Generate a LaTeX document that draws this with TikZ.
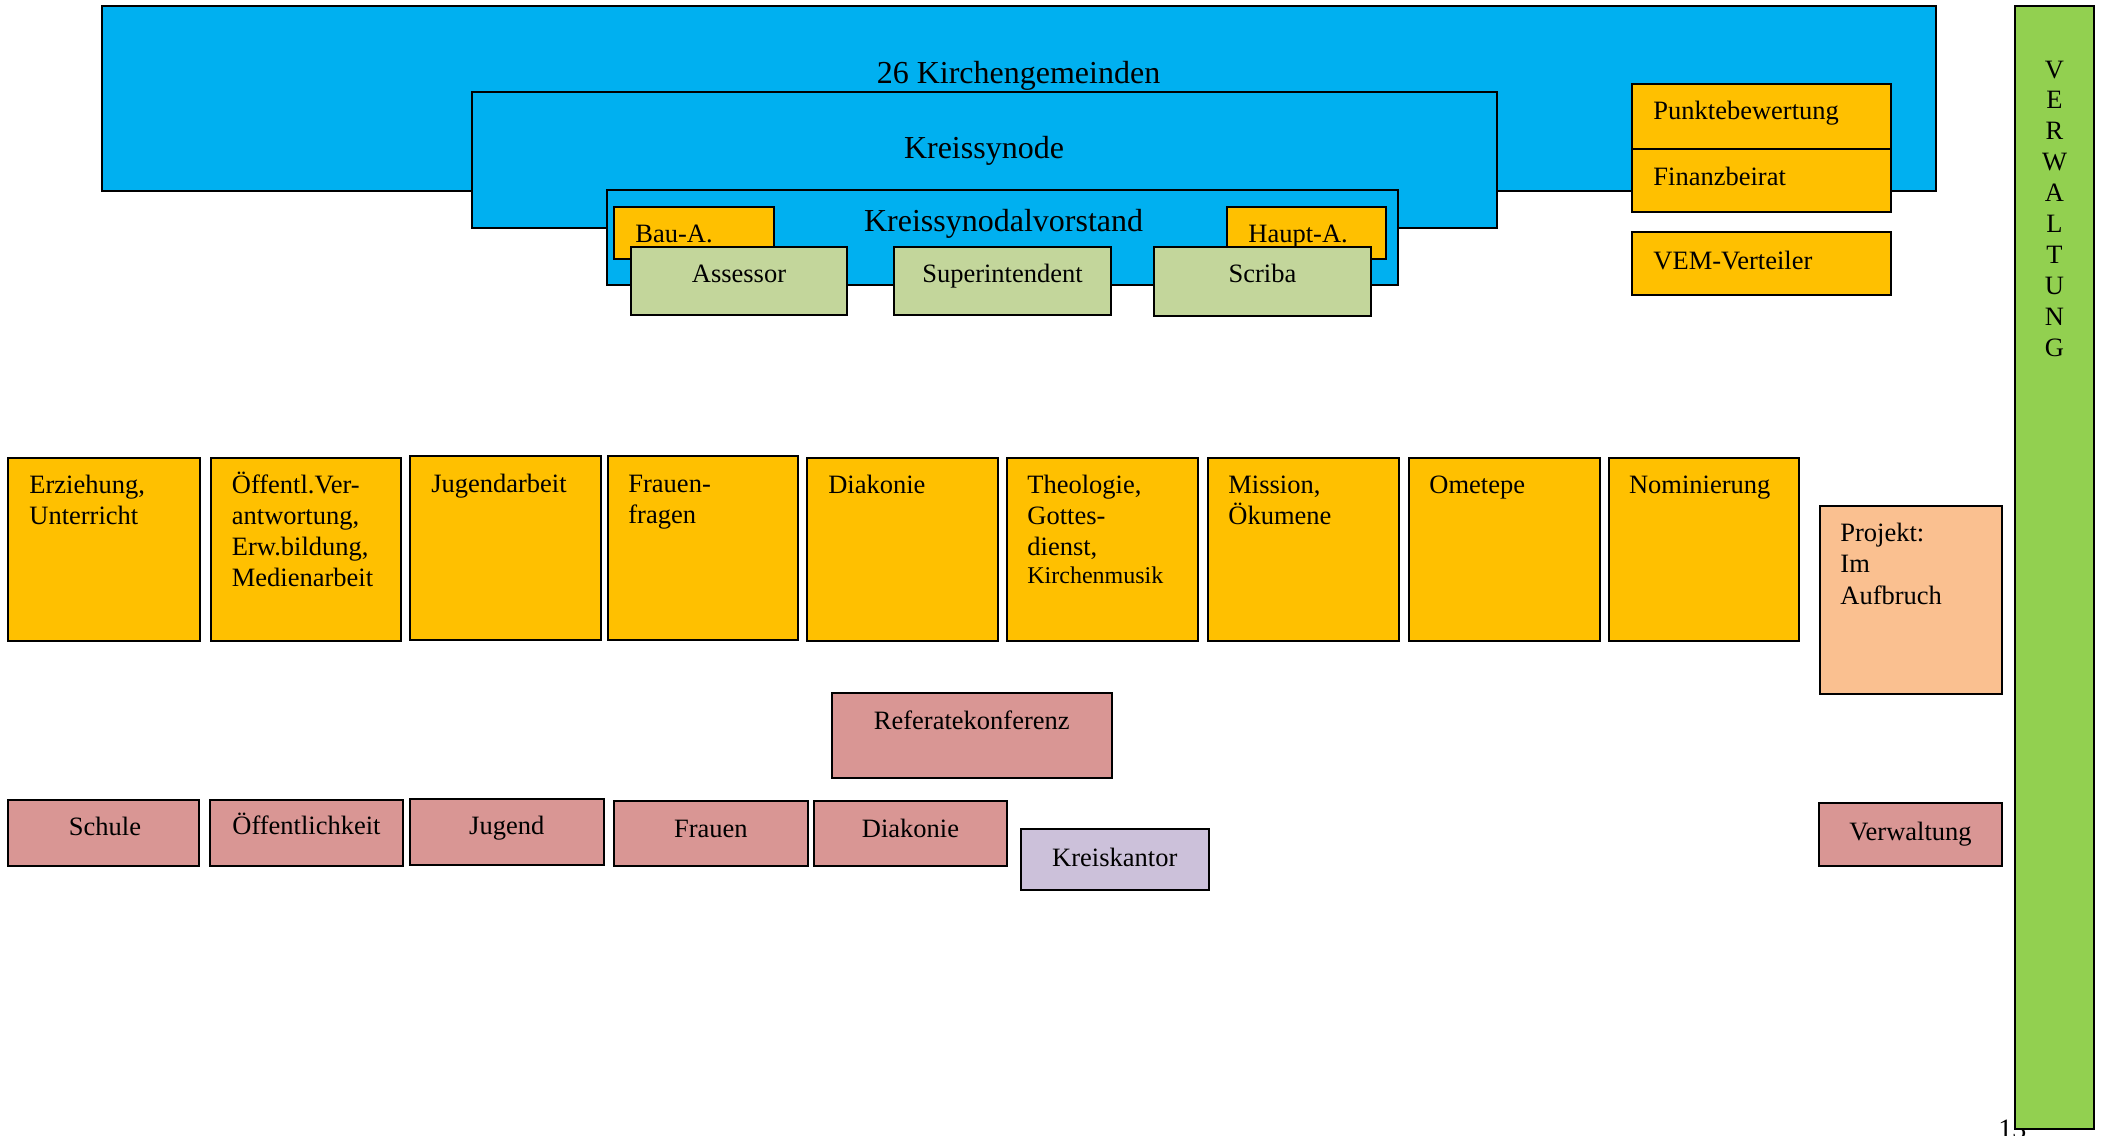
\documentclass[tikz,border=0pt]{standalone}
\usepackage{fontspec}
\setmainfont{Liberation Serif}
\definecolor{cblue}{HTML}{00B0F0}
\definecolor{corange}{HTML}{FFC000}
\definecolor{csage}{HTML}{C3D69B}
\definecolor{cgreen}{HTML}{92D050}
\definecolor{cpink}{HTML}{D99694}
\definecolor{cpeach}{HTML}{FAC090}
\definecolor{clav}{HTML}{CCC1DA}
\tikzset{
  box/.style={draw=black, line width=1pt, inner sep=0pt, outer sep=0pt},
  bluebox/.style={box, fill=cblue},
  orabox/.style={box, fill=corange},
  sagebox/.style={box, fill=csage},
  greenbox/.style={box, fill=cgreen},
  pinkbox/.style={box, fill=cpink},
  peachbox/.style={box, fill=cpeach},
  lavbox/.style={box, fill=clav},
  tx/.style={font=\fontsize{13.25}{15.5}\selectfont, inner sep=0pt, yshift=-0.67pt},
  txl/.style={tx, text width=88pt, align=left},
  big/.style={font=\fontsize{16}{19}\selectfont, inner sep=0pt, yshift=-0.67pt},
}
\newcommand{\mybox}[6]{\node[#2,anchor=north west,minimum width={(#5-#3)*0.5pt},minimum height={(#6-#4)*0.5pt}] (#1) at (#3,#4) {};}
\begin{document}
\begin{tikzpicture}[x=0.5pt,y=-0.5pt]
\useasboundingbox (0,0) rectangle (2102,1135);
% page number partly hidden
\node[font=\fontsize{14}{16}\selectfont, inner sep=0pt, anchor=base west] (pnum) at (1998,1138) {13};
% top blue structure
\mybox{kg}{bluebox}{102}{6}{1936}{191}
\mybox{ks}{bluebox}{472}{92}{1497}{228}
\mybox{ksv}{bluebox}{607}{190}{1398}{285}
\node[big, anchor=base] (kgt) at (1018.5,81.7) {26 Kirchengemeinden};
\node[big, anchor=base] (kst) at (984,156.7) {Kreissynode};
\node[big, anchor=base] (ksvt) at (1003.6,230) {Kreissynodalvorstand};
\mybox{bau}{orabox}{614}{207}{774}{259}
\mybox{haupt}{orabox}{1227}{207}{1386}{259}
\node[tx, anchor=base west] (baut) at ([shift={(21,34.5)}]bau.north west) {Bau-A.};
\node[tx, anchor=base west] (hauptt) at ([shift={(21,34.5)}]haupt.north west) {Haupt-A.};
\mybox{ass}{sagebox}{631}{247}{847}{315}
\mybox{sup}{sagebox}{894}{247}{1111}{315}
\mybox{scr}{sagebox}{1154}{247}{1371}{316}
\node[tx, anchor=base] (asst) at ([shift={(0,34.5)}]ass.north) {Assessor};
\node[tx, anchor=base] (supt) at ([shift={(0,34.5)}]sup.north) {Superintendent};
\node[tx, anchor=base] (scrt) at ([shift={(0,34.5)}]scr.north) {Scriba};
% right top
\mybox{pkt}{orabox}{1632}{84}{1891}{149}
\mybox{fin}{orabox}{1632}{149}{1891}{212}
\mybox{vem}{orabox}{1632}{232}{1891}{295}
\node[tx, anchor=base west] (pktt) at ([shift={(21,34)}]pkt.north west) {Punktebewertung};
\node[tx, anchor=base west] (fint) at ([shift={(21,35)}]fin.north west) {Finanzbeirat};
\node[tx, anchor=base west] (vemt) at ([shift={(21,36)}]vem.north west) {VEM-Verteiler};
% green bar
\mybox{verw}{greenbox}{2015}{6}{2094}{1129}
\node[font=\fontsize{13.25}{15.45}\selectfont, inner sep=0pt, text width=20pt, align=center, anchor=base, yshift=-0.67pt] (verwt) at (2054.5,76.7) {V\\E\\R\\W\\A\\L\\T\\U\\N\\G};
% orange row
\mybox{o1}{orabox}{8}{458}{200}{641}
\mybox{o2}{orabox}{210.5}{458}{400.6}{641}
\mybox{o3}{orabox}{410.4}{456}{601.2}{640}
\mybox{o4}{orabox}{607.5}{456}{798.3}{640}
\mybox{o5}{orabox}{807.4}{458}{997.5}{641}
\mybox{o6}{orabox}{1007}{458}{1197.5}{641}
\mybox{o7}{orabox}{1208}{458}{1398.5}{641}
\mybox{o8}{orabox}{1409}{458}{1599.5}{641}
\mybox{o9}{orabox}{1608.6}{458}{1799}{641}
\node[txl, anchor=base west] (o1t) at ([shift={(21,34)}]o1.north west) {Erziehung,\\Unterricht};
\node[txl, anchor=base west] (o2t) at ([shift={(21,34)}]o2.north west) {Öffentl.Ver-\\antwortung,\\Erw.bildung,\\Medienarbeit};
\node[txl, anchor=base west] (o3t) at ([shift={(20.5,35.5)}]o3.north west) {Jugendarbeit};
\node[txl, anchor=base west] (o4t) at ([shift={(20.5,35.5)}]o4.north west) {Frauen-\\fragen};
\node[txl, anchor=base west] (o5t) at ([shift={(20.5,34)}]o5.north west) {Diakonie};
\node[txl, anchor=base west] (o6t) at ([shift={(20,34)}]o6.north west) {Theologie,\\Gottes-\\dienst,\\[-1.3pt]{\fontsize{12}{14}\selectfont Kirchenmusik}};
\node[txl, anchor=base west] (o7t) at ([shift={(20,34)}]o7.north west) {Mission,\\Ökumene};
\node[txl, anchor=base west] (o8t) at ([shift={(20,34)}]o8.north west) {Ometepe};
\node[txl, anchor=base west] (o9t) at ([shift={(20,34)}]o9.north west) {Nominierung};
% Projekt
\mybox{proj}{peachbox}{1819.5}{506}{2002}{694}
\node[tx, text width=80pt, align=left, font=\fontsize{13.25}{15.8}\selectfont, anchor=base west] (projt) at ([shift={(20.5,34)}]proj.north west) {Projekt:\\Im\\Aufbruch};
% Referatekonferenz
\mybox{ref}{pinkbox}{831.5}{693}{1112}{778}
\node[tx, anchor=base] (reft) at ([shift={(0,35)}]ref.north) {Referatekonferenz};
% bottom row
\mybox{p1}{pinkbox}{8}{800}{199}{866}
\mybox{p2}{pinkbox}{210}{800}{403}{866}
\mybox{p3}{pinkbox}{410}{799}{603.5}{865}
\mybox{p4}{pinkbox}{614}{801}{807.6}{866}
\mybox{p5}{pinkbox}{814}{801}{1007}{866}
\mybox{kk}{lavbox}{1021}{829}{1208.5}{890}
\mybox{vw}{pinkbox}{1819}{803}{2002}{866}
\node[tx, anchor=base] (p1t) at ([shift={(1.5,34.3)}]p1.north) {Schule};
\node[tx, anchor=base] (p2t) at ([shift={(0,33.5)}]p2.north) {Öffentlichkeit};
\node[tx, anchor=base] (p3t) at ([shift={(0,34.3)}]p3.north) {Jugend};
\node[tx, anchor=base] (p4t) at ([shift={(0,35.5)}]p4.north) {Frauen};
\node[tx, anchor=base] (p5t) at ([shift={(0,35)}]p5.north) {Diakonie};
\node[tx, anchor=base] (kkt) at ([shift={(0,36)}]kk.north) {Kreiskantor};
\node[tx, anchor=base] (vwt) at ([shift={(0,35.7)}]vw.north) {Verwaltung};
\end{tikzpicture}
\end{document}
